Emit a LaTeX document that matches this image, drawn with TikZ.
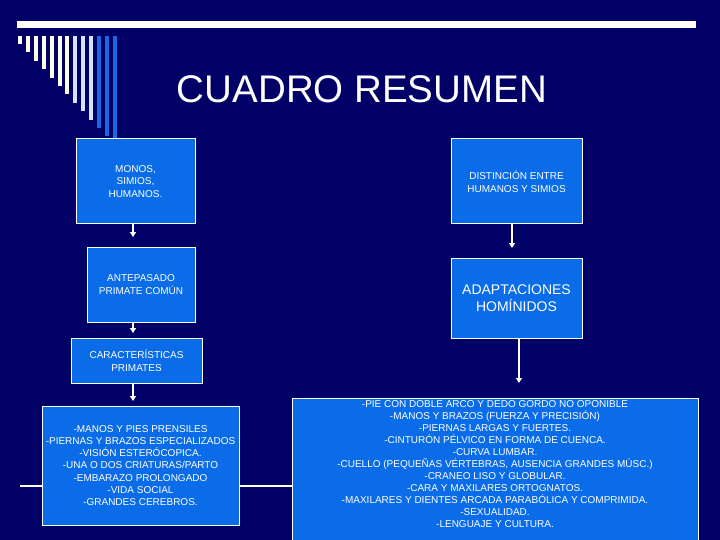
\documentclass[tikz,border=0pt]{standalone}
\usepackage{fontspec}
\setmainfont{Liberation Sans}
\usepackage{tikz}
\usetikzlibrary{
    arrows.meta,
    positioning
}
\usepackage{xcolor}
\definecolor{navy}{RGB}{0,0,102}
\definecolor{boxblue}{RGB}{10,108,232}
\definecolor{cream}{RGB}{255,255,226}
\definecolor{paleblue}{RGB}{212,226,250}
\definecolor{midblue}{RGB}{28,104,226}
\tikzstyle{box} = [
    rectangle,
    draw=white,
    line width=1pt,
    fill=boxblue,
    text=white,
    align=center,
    inner sep=0pt,
    outer sep=0pt,
    font=\fontsize{10}{12.5}\selectfont
]
\tikzstyle{listtext} = [
    text=white,
    align=center,
    inner sep=0pt,
    font=\fontsize{10}{12}\selectfont
]
\tikzstyle{arrow} = [
    -{Triangle[width=6pt,length=5pt]},
    line width=2pt,
    draw=white
]

\begin{document}
\begin{tikzpicture}[x=1pt, y=-1pt]
        \useasboundingbox (0,0) rectangle (720,540);
        \fill[navy] (0,0) rectangle (720,540);

        % Slide decoration
        \fill[white] (17,21) rectangle (696,28);
        \foreach \i/\c in {1/white,2/cream,3/cream,4/cream,5/cream,6/cream,7/cream,
                           8/paleblue,9/paleblue,10/paleblue,11/midblue,12/midblue,13/midblue} {
            \pgfmathsetmacro{\bx}{18+7.9*(\i-1)}
            \pgfmathsetmacro{\by}{min(44+8.4*(\i-1),138)}
            \fill[\c] (\bx,36) rectangle ({\bx+4},\by);
        }
        \draw[white, line width=2pt] (20,485.5) -- (698,485.5);

        \node[text=white, font=\fontsize{38.5}{40}\selectfont] (title) at (362,89) {CUADRO RESUMEN};

        % Primates
        \node[box, minimum width=119pt, minimum height=85pt] (monos) at (135.5,181.5) {MONOS,\\SIMIOS,\\HUMANOS.};
        \node[box, minimum width=108pt, minimum height=75pt, below=23pt of monos.south east, anchor=north east] (antepasado) {ANTEPASADO\\PRIMATE COMÚN};
        \node[box, minimum width=131pt, minimum height=45pt, below=16pt of antepasado, xshift=-4.5pt] (caract) {CARACTERÍSTICAS\\PRIMATES};
        \node[box, minimum width=197pt, minimum height=119pt, below=23pt of caract, xshift=4pt, font=\fontsize{10}{12.2}\selectfont] (rasgos) {-MANOS Y PIES PRENSILES\\-PIERNAS Y BRAZOS ESPECIALIZADOS\\-VISIÓN ESTERÓCOPICA.\\-UNA O DOS CRIATURAS/PARTO\\-EMBARAZO PROLONGADO\\-VIDA SOCIAL\\-GRANDES CEREBROS.};

        \coordinate (t1) at (133,237);
        \coordinate (t2) at (133,333);
        \coordinate (t3) at (133,401);
        \draw[arrow] (monos.south -| t1) -- (t1);
        \draw[arrow] (antepasado.south -| t2) -- (t2);
        \draw[arrow] (caract.south -| t3) -- (t3);

        % Hominidos
        \node[box, minimum width=131pt, minimum height=85pt, font=\fontsize{10}{13.5}\selectfont] (distincion) at (516.5,181.5) {DISTINCIÓN ENTRE\\HUMANOS Y SIMIOS};
        \node[box, minimum width=131pt, minimum height=80pt, below=34pt of distincion, font=\fontsize{14}{17.5}\selectfont] (adaptaciones) {ADAPTACIONES\\HOMÍNIDOS};
        \node[box, minimum width=406pt, minimum height=152pt, below=60pt of adaptaciones, xshift=-21.5pt] (hominidos) {};
        \node[listtext, below=2.5pt of hominidos.north] (hominidoslist) {-PIE CON DOBLE ARCO Y DEDO GORDO NO OPONIBLE\\-MANOS Y BRAZOS (FUERZA Y PRECISIÓN)\\-PIERNAS LARGAS Y FUERTES.\\-CINTURÓN PÉLVICO EN FORMA DE CUENCA.\\-CURVA LUMBAR.\\-CUELLO (PEQUEÑAS VÉRTEBRAS, AUSENCIA GRANDES MÚSC.)\\-CRANEO LISO Y GLOBULAR.\\-CARA Y MAXILARES ORTOGNATOS.\\-MAXILARES Y DIENTES ARCADA PARABÓLICA Y COMPRIMIDA.\\-SEXUALIDAD.\\-LENGUAJE Y CULTURA.};

        \coordinate (t4) at (512,248);
        \coordinate (t5) at (519,383);
        \draw[arrow] (distincion.south -| t4) -- (t4);
        \draw[arrow] (adaptaciones.south -| t5) -- (t5);
    \end{tikzpicture}
\end{document}
